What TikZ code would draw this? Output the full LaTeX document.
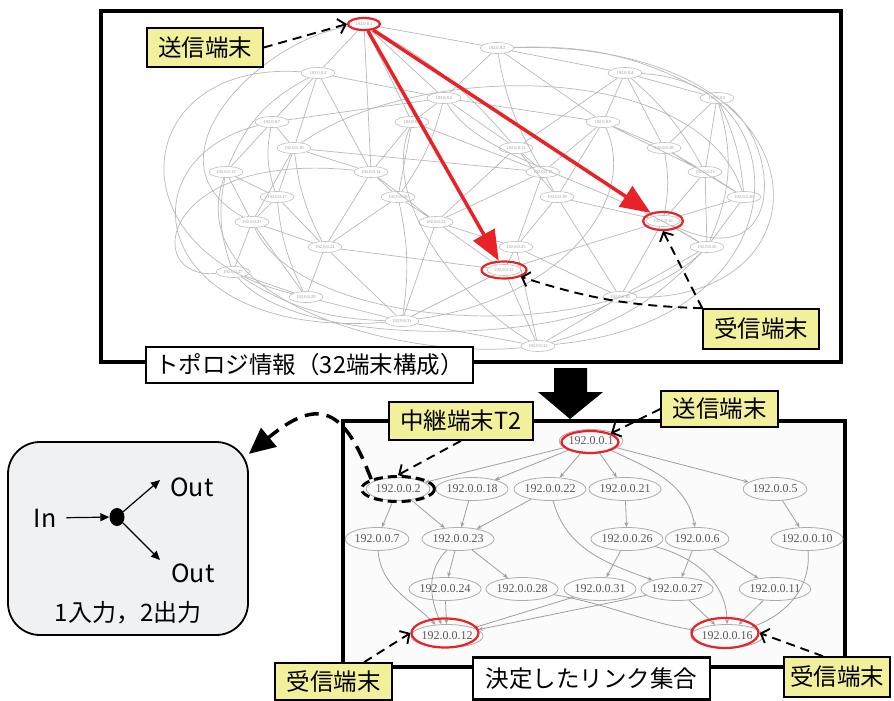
\documentclass[tikz,border=0pt]{standalone}
\usepackage{fontspec}
\usepackage{tikz}
\usetikzlibrary{arrows.meta,shapes.geometric}
\newfontfamily\jpfont{Noto Sans CJK JP}
\newfontfamily\ipfont{Liberation Serif}
\definecolor{tagYellow}{RGB}{243,240,155}
\definecolor{boxGrey}{RGB}{240,241,243}
\definecolor{ringRed}{RGB}{232,34,38}
\newcommand{\senderTag}{送信端末}
\newcommand{\receiverTag}{受信端末}
\newcommand{\relayTag}{中継端末T2}

\begin{document}
\begin{tikzpicture}[x=1pt,y=-1pt,
  tag/.style={draw, line width=1.6pt, fill=tagYellow, inner sep=0pt, font=\jpfont\fontsize{23.5}{24}\selectfont},
  caption/.style={draw, line width=2.6pt, fill=white, inner sep=0pt, font=\jpfont\fontsize{23.5}{24}\selectfont},
  topoNode/.style={ellipse, draw=gray!50, line width=0.6pt, minimum width=34pt, minimum height=11pt, inner sep=0pt, font=\ipfont\fontsize{4.5}{5}\selectfont, text=gray!80},
  topoLink/.style={draw=gray!55, line width=0.7pt},
  ipNode/.style={ellipse, draw=gray!65, line width=0.8pt, minimum width=63pt, minimum height=23pt, inner sep=0pt, font=\ipfont\fontsize{12}{12}\selectfont, text=gray!70!black},
  ipLink/.style={draw=gray!75, line width=0.8pt, -{Stealth[length=5pt,width=4pt]}},
  ring/.style={ellipse, draw=ringRed, line width=2.2pt, inner sep=0pt},
  pointer/.style={line width=1.9pt, dash pattern=on 9pt off 6pt, -{Straight Barb[length=7pt,width=15pt]}},
  boxText/.style={font=\jpfont\fontsize{25}{25}\selectfont, inner sep=0pt}]
\useasboundingbox (0,0) rectangle (894,701);

\draw[line width=3.5pt, fill=white] (101,11) rectangle (841,362);
\draw[line width=3.5pt, fill=gray!3] (343,421) rectangle (845,667);
\fill (554,368) -- (587,368) -- (587,392) -- (603,392) -- (570,419) -- (538,392) -- (554,392) -- cycle;

\node[topoNode] (topo1)  at (364,24)  {192.0.0.1};
\node[topoNode] (topo2)  at (497,48)  {192.0.0.2};
\node[topoNode] (topo3)  at (318,73)  {192.0.0.3};
\node[topoNode] (topo4)  at (625,73)  {192.0.0.4};
\node[topoNode] (topo5)  at (717,98)  {192.0.0.5};
\node[topoNode] (topo6)  at (444,98)  {192.0.0.6};
\node[topoNode] (topo7)  at (272,122) {192.0.0.7};
\node[topoNode] (topo8)  at (412,122) {192.0.0.8};
\node[topoNode] (topo9)  at (603,122) {192.0.0.9};
\node[topoNode] (topo10) at (294,148) {192.0.0.10};
\node[topoNode] (topo11) at (516,148) {192.0.0.11};
\node[topoNode] (topo28) at (664,148) {192.0.0.28};
\node[topoNode] (topo13) at (226,172) {192.0.0.13};
\node[topoNode] (topo14) at (371,172) {192.0.0.14};
\node[topoNode] (topo15) at (543,172) {192.0.0.15};
\node[topoNode] (topo23) at (705,172) {192.0.0.23};
\node[topoNode] (topo17) at (277,197) {192.0.0.17};
\node[topoNode] (topo18) at (398,197) {192.0.0.18};
\node[topoNode] (topo19) at (557,197) {192.0.0.19};
\node[topoNode] (topo20) at (744,197) {192.0.0.20};
\node[topoNode] (topo21) at (252,222) {192.0.0.21};
\node[topoNode] (topo22) at (436,222) {192.0.0.22};
\node[topoNode] (topo16) at (663,221) {192.0.0.16};
\node[topoNode] (topo24) at (325,247) {192.0.0.24};
\node[topoNode] (topo25) at (516,247) {192.0.0.25};
\node[topoNode] (topo26) at (707,247) {192.0.0.26};
\node[topoNode] (topo27) at (233,272) {192.0.0.27};
\node[topoNode] (topo12) at (504,270) {192.0.0.12};
\node[topoNode] (topo29) at (306,297) {192.0.0.29};
\node[topoNode] (topo30) at (620,297) {192.0.0.30};
\node[topoNode] (topo31) at (402,321) {192.0.0.31};
\node[topoNode] (topo32) at (538,346) {192.0.0.32};

\draw[topoLink] (topo1) -- (topo2) (topo1) -- (topo3) (topo1) -- (topo6) (topo1) -- (topo8) (topo1) to[bend left=10] (topo11) (topo1) -- (topo14)
  (topo2) -- (topo4) (topo2) -- (topo6) (topo2) -- (topo9) (topo2) to[bend right=10] (topo15) (topo2) to[bend left=15] (topo5)
  (topo3) -- (topo7) (topo3) -- (topo10) (topo3) -- (topo6) (topo3) -- (topo14) (topo3) to[bend right=20] (topo13)
  (topo4) -- (topo5) (topo4) -- (topo9) (topo4) -- (topo28) (topo4) to[bend left=10] (topo23) (topo4) -- (topo11)
  (topo5) -- (topo28) (topo5) -- (topo23) (topo5) to[bend left=10] (topo20) (topo5) to[bend left=20] (topo26)
  (topo6) -- (topo8) (topo6) -- (topo11) (topo6) -- (topo9) (topo6) -- (topo7) (topo6) to[bend left=10] (topo18)
  (topo7) -- (topo10) (topo7) -- (topo13) (topo7) to[bend right=15] (topo17)
  (topo8) -- (topo14) (topo8) -- (topo18) (topo8) -- (topo15)
  (topo9) -- (topo28) (topo9) -- (topo15) (topo9) -- (topo23) (topo9) -- (topo19)
  (topo10) -- (topo14) (topo10) -- (topo17) (topo10) -- (topo21) (topo10) to[bend right=10] (topo24) (topo10) -- (topo15)
  (topo11) -- (topo15) (topo11) -- (topo19) (topo11) -- (topo22)
  (topo28) -- (topo23) (topo28) -- (topo20) (topo28) to[bend left=10] (topo16)
  (topo13) -- (topo17) (topo13) -- (topo21) (topo13) to[bend right=15] (topo27)
  (topo14) -- (topo18) (topo14) -- (topo22) (topo14) -- (topo24)
  (topo15) -- (topo19) (topo15) -- (topo22) (topo15) -- (topo25)
  (topo23) -- (topo20) (topo23) -- (topo16) (topo23) -- (topo26)
  (topo17) -- (topo21) (topo17) -- (topo24) (topo17) to[bend right=10] (topo29)
  (topo18) -- (topo22) (topo18) -- (topo24) (topo18) to[bend left=10] (topo31)
  (topo19) -- (topo16) (topo19) -- (topo25) (topo19) -- (topo30)
  (topo20) -- (topo26) (topo20) -- (topo16)
  (topo21) -- (topo27) (topo21) -- (topo24) (topo21) -- (topo29)
  (topo22) -- (topo25) (topo22) -- (topo12) (topo22) -- (topo31)
  (topo16) -- (topo26) (topo16) -- (topo30) (topo16) -- (topo12)
  (topo24) -- (topo29) (topo24) -- (topo31) (topo24) -- (topo12)
  (topo25) -- (topo12) (topo25) -- (topo30) (topo25) -- (topo32)
  (topo26) -- (topo30) (topo26) to[bend left=15] (topo32)
  (topo27) -- (topo29) (topo27) to[bend right=15] (topo31)
  (topo12) -- (topo31) (topo12) -- (topo32)
  (topo29) -- (topo31) (topo30) -- (topo32) (topo31) -- (topo32);
\draw[topoLink] (topo3) .. controls (130,60) and (110,250) .. (topo29)
  (topo7) .. controls (120,160) and (150,340) .. (topo31)
  (topo2) .. controls (830,40) and (840,300) .. (topo30)
  (topo4) .. controls (800,80) and (810,320) .. (topo32)
  (topo5) .. controls (780,140) and (790,280) .. (topo16)
  (topo13) .. controls (180,300) and (400,360) .. (topo32)
  (topo27) .. controls (300,350) and (550,340) .. (topo30)
  (topo1) .. controls (260,40) and (140,160) .. (topo21)
  (topo10) .. controls (420,60) and (700,60) .. (topo20)
  (topo21) .. controls (300,330) and (600,350) .. (topo26)
  (topo8) .. controls (380,200) and (460,300) .. (topo32)
  (topo9) .. controls (640,200) and (560,300) .. (topo31)
  (topo6) .. controls (480,160) and (600,180) .. (topo26)
  (topo14) .. controls (160,150) and (140,280) .. (topo27);

\node[ring, minimum width=32pt, minimum height=12pt] (topoSenderRing)   at (364,24)  {};
\node[ring, minimum width=45pt, minimum height=17pt] (topoReceiverLeft) at (504,270) {};
\node[ring, minimum width=40pt, minimum height=18pt] (topoReceiverRight) at (663,221) {};
\draw[ringRed, line width=3.5pt, -{Triangle[length=30pt,width=24pt]}] (topoSenderRing) -- (topoReceiverLeft);
\draw[ringRed, line width=3.5pt, -{Triangle[length=30pt,width=24pt]}] (topoSenderRing) -- (topoReceiverRight);

\node[ipNode] (ip1)  at (591,441) {192.0.0.1};
\node[ipNode] (ip2)  at (398,489) {192.0.0.2};
\node[ipNode] (ip18) at (472,489) {192.0.0.18};
\node[ipNode] (ip22) at (550,489) {192.0.0.22};
\node[ipNode] (ip21) at (625,489) {192.0.0.21};
\node[ipNode] (ip5)  at (775,489) {192.0.0.5};
\node[ipNode] (ip7)  at (377,539) {192.0.0.7};
\node[ipNode] (ip23) at (458,539) {192.0.0.23};
\node[ipNode] (ip26) at (627,539) {192.0.0.26};
\node[ipNode] (ip6)  at (697,539) {192.0.0.6};
\node[ipNode] (ip10) at (807,539) {192.0.0.10};
\node[ipNode] (ip24) at (445,589) {192.0.0.24};
\node[ipNode] (ip28) at (522,589) {192.0.0.28};
\node[ipNode] (ip31) at (600,589) {192.0.0.31};
\node[ipNode] (ip27) at (677,589) {192.0.0.27};
\node[ipNode] (ip11) at (775,589) {192.0.0.11};
\node[ipNode] (ip12) at (447,636) {192.0.0.12};
\node[ipNode] (ip16) at (727,636) {192.0.0.16};

\draw[ipLink] (ip1) -- (ip2);
\draw[ipLink] (ip1) -- (ip18);
\draw[ipLink] (ip1) -- (ip22);
\draw[ipLink] (ip1) -- (ip21);
\draw[ipLink] (ip1) -- (ip5);
\draw[ipLink] (ip1) to[out=-25,in=100] (ip6);
\draw[ipLink] (ip2) -- (ip7);
\draw[ipLink] (ip2) -- (ip23);
\draw[ipLink] (ip18) -- (ip23);
\draw[ipLink] (ip22) -- (ip23);
\draw[ipLink] (ip22) to[out=-75,in=160] (ip27);
\draw[ipLink] (ip21) -- (ip26);
\draw[ipLink] (ip5) -- (ip10);
\draw[ipLink] (ip26) -- (ip31);
\draw[ipLink] (ip26) to[out=-15,in=90] (ip16);
\draw[ipLink] (ip6) -- (ip27);
\draw[ipLink] (ip6) -- (ip11);
\draw[ipLink] (ip10) to[out=-85,in=20] (ip16);
\draw[ipLink] (ip7) to[out=-85,in=135] (ip12);
\draw[ipLink] (ip23) to[out=-135,in=115] (ip12);
\draw[ipLink] (ip23) -- (ip24);
\draw[ipLink] (ip23) -- (ip28);
\draw[ipLink] (ip24) -- (ip12);
\draw[ipLink] (ip28) to[out=-10,in=170] (ip16);
\draw[ipLink] (ip31) -- (ip12);
\draw[ipLink] (ip27) -- (ip12);
\draw[ipLink] (ip27) -- (ip16);
\draw[ipLink] (ip11) -- (ip16);

\node[ring, minimum width=57pt, minimum height=22pt] (senderRing) at (590,442) {};
\node[ring, minimum width=67pt, minimum height=29pt] (receiverRingA) at (445,633) {};
\node[ring, minimum width=67pt, minimum height=30pt] (receiverRingB) at (725,633) {};
\node[ellipse, draw, line width=3pt, dash pattern=on 9pt off 5pt, inner sep=0pt, minimum width=73pt, minimum height=25pt] (relayRing) at (398,489) {};

\node[draw, line width=1.8pt, fill=boxGrey, rounded corners=32pt, minimum width=240pt, minimum height=193pt] (branchBox) at (128,538.5) {};
\node[boxText] (inLabel)  at (45,518)  {In};
\node[fill, ellipse, inner sep=0pt, minimum width=15pt, minimum height=18pt] (splitDot) at (117,517) {};
\node[boxText] (outUpper) at (192,487) {Out};
\node[boxText] (outLower) at (193,573) {Out};
\node[boxText, font=\jpfont\fontsize{24}{24}\selectfont] (branchNote) at (128,613) {1入力，2出力};
\coordinate (upperTip) at (160,480);
\coordinate (lowerTip) at (160,560);
\draw[line width=1.2pt, shorten <=10pt, -{Triangle[length=9pt,width=8pt]}] (inLabel) -- (splitDot);
\draw[line width=1.2pt, -{Triangle[length=9pt,width=8pt]}] (splitDot) -- (upperTip);
\draw[line width=1.2pt, -{Triangle[length=9pt,width=8pt]}] (splitDot) -- (lowerTip);
\draw[line width=3.5pt, dash pattern=on 14pt off 8pt, -{Triangle[length=26pt,width=24pt]}] (relayRing.north west) .. controls (345,410) and (320,395) .. (branchBox.35);

\node[tag, minimum width=116pt, minimum height=39pt] (senderTop)    at (205,47.5)  {\senderTag};
\node[tag, minimum width=116pt, minimum height=40pt] (receiverTop)  at (761,329)   {\receiverTag};
\node[caption, minimum width=327pt, minimum height=36pt] (topoCaption) at (309.5,365) {トポロジ情報（32端末構成）};
\node[tag, minimum width=144pt, minimum height=38pt] (relayLabel)   at (461,421)   {\relayTag};
\node[tag, minimum width=117pt, minimum height=36pt] (senderBottom) at (719.5,409) {\senderTag};
\node[tag, minimum width=117pt, minimum height=37pt] (receiverLeft) at (333.5,681.5) {\receiverTag};
\node[tag, minimum width=106pt, minimum height=40pt] (receiverRight) at (837,677)  {\receiverTag};
\node[caption, minimum width=237pt, minimum height=42pt] (linkCaption) at (591.5,678.5) {決定したリンク集合};

\draw[pointer] (senderTop.east) -- (topoSenderRing.west);
\draw[pointer] (receiverTop.north west) to[bend left=8] (topoReceiverLeft.south east);
\draw[pointer] (receiverTop.north west) -- (topoReceiverRight.south);
\draw[pointer] (relayLabel.south) -- (relayRing.north);
\draw[pointer] (senderBottom.west) -- (senderRing.north east);
\draw[pointer] (receiverLeft) -- (receiverRingA.west);
\draw[pointer] ([xshift=-14pt]receiverRight.north) -- (receiverRingB.east);
\end{tikzpicture}
\end{document}
